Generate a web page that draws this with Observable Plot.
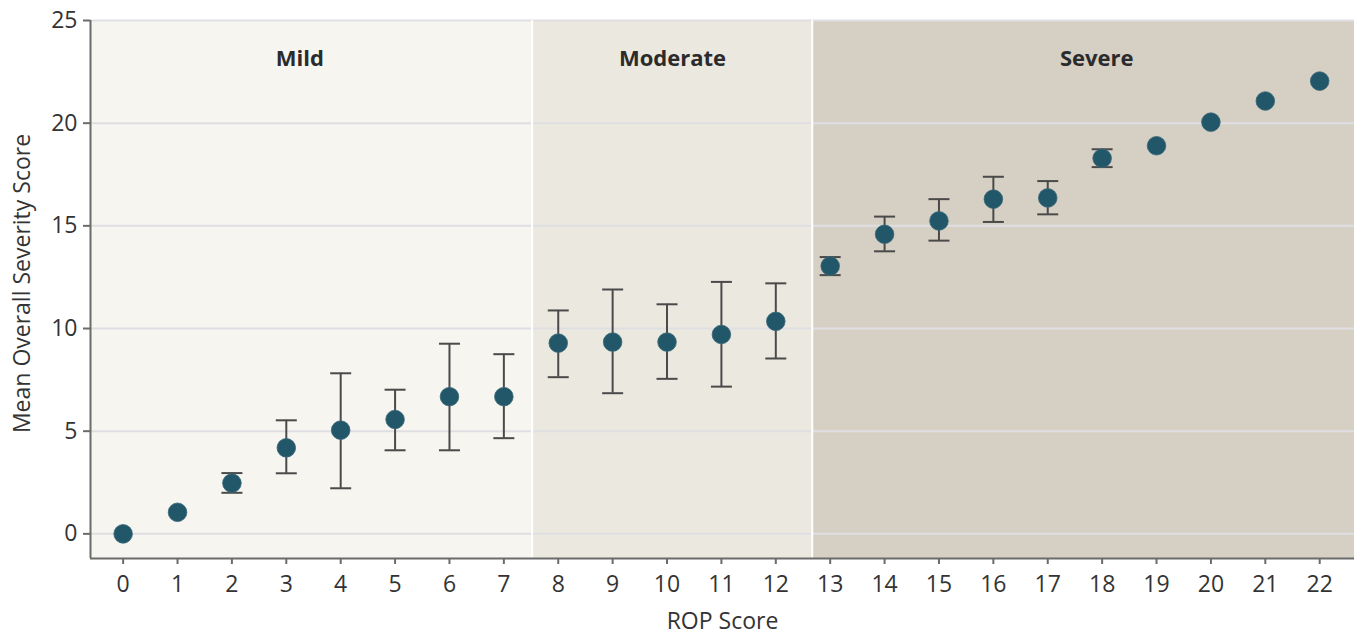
<!DOCTYPE html>
<html><head><meta charset="utf-8">
<script src="https://cdn.jsdelivr.net/npm/d3@7"></script>
<script src="https://cdn.jsdelivr.net/npm/@observablehq/plot@0.6"></script>
<style>body{margin:0;background:#fff;} #chart svg{display:block;}</style>
</head><body><div id="chart"></div>
<script>
// ---- data ----
const ropScore     = [0, 1, 2, 3, 4, 5, 6, 7, 8, 9, 10, 11, 12, 13, 14, 15, 16, 17, 18, 19, 20, 21, 22];
const meanSeverity = [0, 1.05, 2.47, 4.19, 5.05, 5.57, 6.68, 6.68, 9.29, 9.34, 9.34, 9.71, 10.35, 13.04, 14.59, 15.24, 16.3, 16.36, 18.29, 18.9, 20.05, 21.08, 22.05];
const ciLow  = [null, null, 2.0, 2.95, 2.22, 4.07, 4.07, 4.66, 7.63, 6.85, 7.55, 7.17, 8.54, 12.6, 13.76, 14.28, 15.19, 15.56, 17.86, null, null, null, null];
const ciHigh = [null, null, 2.96, 5.53, 7.82, 7.02, 9.26, 8.75, 10.88, 11.9, 11.18, 12.27, 12.2, 13.48, 15.45, 16.3, 17.39, 17.18, 18.73, null, null, null, null];

const bandNames  = ["Mild", "Moderate", "Severe"];
const bandStart  = [-0.6, 7.52, 12.67];
const bandEnd    = [7.52, 12.67, 22.64];
const bandLabelX = [3.25, 10.1, 17.9];
const bandLabelY = [23.15, 23.15, 23.15];
const bandColors = ["#f7f5f0", "#ebe8df", "#d6cfc3"];

const xTicks = [0, 1, 2, 3, 4, 5, 6, 7, 8, 9, 10, 11, 12, 13, 14, 15, 16, 17, 18, 19, 20, 21, 22];
const yTicks = [0, 5, 10, 15, 20, 25];
const xTitle = ["ROP Score"];
const yTitle = ["Mean Overall Severity Score"];
const xDomain = [-0.6, 22.64];
const yDomain = [-1.2, 25];

// ---- tables built from the arrays ----
const points = ropScore.map((x, i) => ({x, y: meanSeverity[i], lo: ciLow[i], hi: ciHigh[i]}));
const errs = points.filter(d => d.lo != null);
const bands = bandNames.map((name, i) => ({name, x1: bandStart[i], x2: bandEnd[i], lx: bandLabelX[i], ly: bandLabelY[i], color: bandColors[i]}));
const boundaries = bandStart.slice(1);

const capSymbol = {draw(ctx) { ctx.moveTo(-10.5, 0); ctx.lineTo(10.5, 0); }};

const chart = Plot.plot({
  width: 1362,
  height: 644,
  marginLeft: 90,
  marginRight: 8,
  marginTop: 20,
  marginBottom: 86,
  style: {fontFamily: "'Open Sans', sans-serif", fontSize: "22px", color: "#333", background: "#fff"},
  x: {domain: xDomain},
  y: {domain: yDomain},
  marks: [
    Plot.rect(bands, {x1: "x1", x2: "x2", fill: "color"}),
    Plot.gridY(yTicks, {stroke: "#dfdfe3", strokeOpacity: 1, strokeWidth: 2}),
    Plot.ruleX(boundaries, {stroke: "#fff", strokeWidth: 2}),
    Plot.text(bands, {x: "lx", y: "ly", text: "name", fontSize: 22, fontWeight: "bold", fill: "#2b2b2b"}),
    Plot.ruleX(errs, {x: "x", y1: "lo", y2: "hi", stroke: "#4a4a4a", strokeWidth: 2}),
    Plot.dot(errs, {x: "x", y: "lo", symbol: capSymbol, stroke: "#4a4a4a", strokeWidth: 2, fill: "none"}),
    Plot.dot(errs, {x: "x", y: "hi", symbol: capSymbol, stroke: "#4a4a4a", strokeWidth: 2, fill: "none"}),
    Plot.dot(points, {x: "x", y: "y", r: 9.3, fill: "#225669", stroke: "#3a6878", strokeWidth: 0.8}),
    Plot.ruleX([xDomain[0]], {stroke: "#6b6b6b", strokeWidth: 2}),
    Plot.ruleY([yDomain[0]], {stroke: "#6b6b6b", strokeWidth: 2}),
    Plot.axisX(xTicks, {tickSize: 6, tickPadding: 11, label: null, fontSize: 23, stroke: "#6b6b6b", fill: "#333", strokeWidth: 2}),
    Plot.axisY(yTicks, {tickSize: 7, tickPadding: 6, label: null, fontSize: 23, stroke: "#6b6b6b", fill: "#333", strokeWidth: 2}),
    Plot.text(xTitle, {text: d => d, frameAnchor: "bottom", dy: 70, fontSize: 23, fill: "#333"}),
    Plot.text(yTitle, {text: d => d, frameAnchor: "left", textAnchor: "middle", dx: -68, dy: -6, rotate: -90, fontSize: 23, fill: "#333"})
  ]
});
document.getElementById("chart").appendChild(chart);
</script>
</body></html>
